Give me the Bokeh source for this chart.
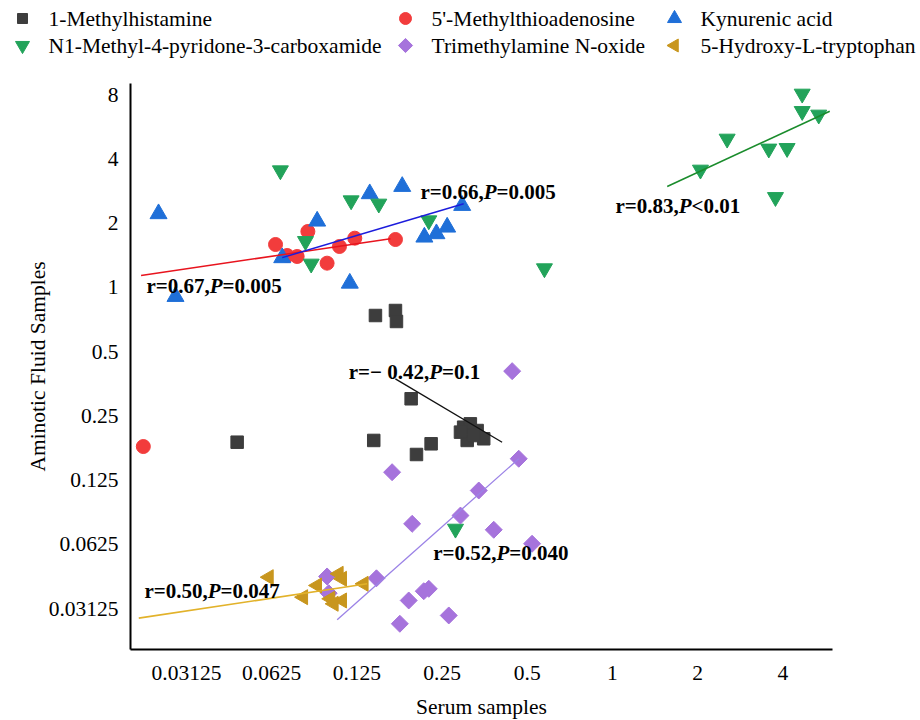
import numpy as np
from bokeh.plotting import figure
from bokeh.models import Range1d, FixedTicker
from bokeh.core.properties import value
from bokeh.embed import file_html
from bokeh.resources import INLINE

# ---------------- data ----------------
x_ticks = [0.03125, 0.0625, 0.125, 0.25, 0.5, 1, 2, 4]
x_tick_labels = ["0.03125", "0.0625", "0.125", "0.25", "0.5", "1", "2", "4"]
y_ticks = [0.03125, 0.0625, 0.125, 0.25, 0.5, 1, 2, 4, 8]
y_tick_labels = ["0.03125", "0.0625", "0.125", "0.25", "0.5", "1", "2", "4", "8"]

series_names = ["1-Methylhistamine", "5'-Methylthioadenosine", "Kynurenic acid",
                "N1-Methyl-4-pyridone-3-carboxamide", "Trimethylamine N-oxide",
                "5-Hydroxy-L-tryptophan"]

mh_x = [0.1454, 0.1711, 0.1725, 0.0472, 0.1434, 0.2287, 0.203, 0.1944, 0.298,
        0.3147, 0.3325, 0.3067, 0.3508, 0.3234, 0.2904]
mh_y = [0.739, 0.780, 0.693, 0.1884, 0.192, 0.1852, 0.165, 0.301, 0.2215,
        0.2297, 0.2137, 0.192, 0.1955, 0.2024, 0.210]

mta_x = [0.0645, 0.0839, 0.0709, 0.0769, 0.0981, 0.1085, 0.1229, 0.1711, 0.0220]
mta_y = [1.590, 1.830, 1.412, 1.397, 1.300, 1.556, 1.702, 1.678, 0.1798]

kyn_x = [0.0249, 0.02858, 0.0905, 0.1388, 0.1808, 0.0681, 0.118, 0.2165, 0.2388,
         0.2606, 0.2944]
kyn_y = [2.215, 0.907, 2.045, 2.748, 2.973, 1.378, 1.047, 1.721, 1.785, 1.917, 2.422]

n1_x = [4.682, 4.682, 5.356, 2.542, 3.567, 4.14, 2.046, 3.766, 0.0671, 0.1193,
        0.1494, 0.0823, 0.0862, 0.2244, 0.575, 0.2788]
n1_y = [8.08, 6.70, 6.445, 4.973, 4.467, 4.495, 3.560, 2.648, 3.533, 2.556,
        2.467, 1.648, 1.2915, 2.06, 1.228, 0.074]

tmao_x = [0.4665, 0.337, 0.2904, 0.1665, 0.196, 0.3807, 0.520, 0.1466, 0.0981,
          0.0994, 0.1906, 0.2154, 0.2244, 0.264, 0.1773, 0.4422]
tmao_y = [0.1576, 0.1119, 0.0854, 0.1363, 0.0781, 0.07325, 0.0630, 0.0434,
          0.04426, 0.03696, 0.03416, 0.03776, 0.03874, 0.02906, 0.02657, 0.4055]

htp_x = [0.0611, 0.0905, 0.1079, 0.1109, 0.1322, 0.0808, 0.1008, 0.1109, 0.1036]
htp_y = [0.04392, 0.04016, 0.04556, 0.04316, 0.04089, 0.0354, 0.0348, 0.03416, 0.03296]

# regression line end points
mh_fit_x, mh_fit_y = [0.171, 0.4074], [0.373, 0.1884]
mta_fit_x, mta_fit_y = [0.0216, 0.1643], [1.138, 1.691]
kyn_fit_x, kyn_fit_y = [0.0681, 0.298], [1.38, 2.467]
n1_fit_x, n1_fit_y = [1.561, 5.857], [2.973, 6.70]
tmao_fit_x, tmao_fit_y = [0.1065, 0.4665], [0.02775, 0.1576]
htp_fit_x, htp_fit_y = [0.0212, 0.1359], [0.02823, 0.04089]

# correlation annotations
ann_x = [0.02257, 0.2097, 1.0247, 0.117, 0.2326, 0.0222]
ann_y = [1.011, 2.80, 2.396, 0.401, 0.05694, 0.03776]
ann_r = ["r=0.67,", "r=0.66,", "r=0.83,", "r=\u2212 0.42,", "r=0.52,", "r=0.50,"]
ann_p = ["=0.005", "=0.005", "<0.01", "=0.1", "=0.040", "=0.047"]

# ---------------- styling ----------------
FONT = "Liberation Serif"
FS = 21.5
ANN_FS = 21

colors = ["#3d3d3d", "#f23c3c", "#1f6fd8", "#22a35a", "#a673dc", "#c8961e"]
line_colors = ["#111111", "#e8141e", "#1c1cdc", "#1a8c2c", "#9b82e6", "#e2b22a"]
markers = ["square", "circle", "triangle", "inverted_triangle", "square", "triangle"]
angles = [0, 0, 0, 0, np.pi / 4, np.pi / 2]
sizes = [12.5, 14, 17, 16, 12, 15]
leg_sizes = [10, 12, 14, 14, 10, 13]

# ---------------- main plot ----------------
p = figure(x_axis_type="log", y_axis_type="log",
           x_range=Range1d(0.01982, 5.99), y_range=Range1d(0.02013, 9.03),
           frame_width=702, frame_height=566,
           min_border_left=130, min_border_right=88, min_border_top=0, min_border_bottom=71,
           output_backend="svg", toolbar_location=None)
p.grid.visible = False
p.outline_line_color = None
p.background_fill_color = "white"
p.border_fill_color = "white"

for ax in (p.xaxis[0], p.yaxis[0]):
    ax.axis_line_width = 2
    ax.axis_line_color = "black"
    ax.major_tick_line_color = None
    ax.minor_tick_line_color = None
    ax.major_tick_out = 0
    ax.major_tick_in = 0
    ax.major_label_text_font = FONT
    ax.major_label_text_font_size = f"{FS}px"
    ax.major_label_text_color = "black"
    ax.axis_label_text_font = FONT
    ax.axis_label_text_font_size = f"{FS}px"
    ax.axis_label_text_font_style = "normal"
    ax.axis_label_text_color = "black"

p.xaxis.ticker = FixedTicker(ticks=x_ticks, minor_ticks=[])
p.yaxis.ticker = FixedTicker(ticks=y_ticks, minor_ticks=[])
p.xaxis.major_label_overrides = {t: s for t, s in zip(x_ticks, x_tick_labels)}
p.yaxis.major_label_overrides = {t: s for t, s in zip(y_ticks, y_tick_labels)}
p.xaxis.axis_label = "Serum samples"
p.yaxis.axis_label = "Aminotic Fluid Samples"
p.xaxis.major_label_standoff = 16
p.yaxis.major_label_standoff = 12
p.xaxis.axis_label_standoff = 12
p.yaxis.axis_label_standoff = -4

series = [(mh_x, mh_y), (mta_x, mta_y), (kyn_x, kyn_y), (n1_x, n1_y),
          (tmao_x, tmao_y), (htp_x, htp_y)]
for i, (sx, sy) in enumerate(series):
    p.scatter(sx, sy, marker=markers[i], angle=angles[i], size=sizes[i], color=colors[i])

# regression lines
fits = [(mh_fit_x, mh_fit_y, 1.3), (mta_fit_x, mta_fit_y, 1.5), (kyn_fit_x, kyn_fit_y, 1.5),
        (n1_fit_x, n1_fit_y, 1.6), (tmao_fit_x, tmao_fit_y, 1.3), (htp_fit_x, htp_fit_y, 1.6)]
for (fx, fy, lw), lc in zip(fits, line_colors):
    p.line(fx, fy, line_color=lc, line_width=lw)

# annotation texts (Times-metric widths for offsets)
bold_w = {"r": 444, "=": 570, ".": 250, ",": 250, " ": 250, "\u2212": 570, "<": 570}
for d in "0123456789":
    bold_w[d] = 500
P_W = 611


def text_w(s):
    return sum(bold_w.get(c, 500) for c in s) * ANN_FS / 1000.0


off_p = [text_w(s) for s in ann_r]
off_rest = [o + P_W * ANN_FS / 1000.0 for o in off_p]

common = dict(text_font=value(FONT), text_font_size=f"{ANN_FS}px", text_color="black",
              text_baseline="middle", text_align="left")
p.text(ann_x, ann_y, text=ann_r, text_font_style="bold", **common)
p.text(ann_x, ann_y, text=["P"] * len(ann_x), x_offset=off_p,
       text_font_style="bold italic", **common)
p.text(ann_x, ann_y, text=ann_p, x_offset=off_rest, text_font_style="bold", **common)

# ---------------- legend strip (3 columns x 2 rows), separate root ----------------
LEG_H = 83
leg = figure(width=920, height=LEG_H, x_range=Range1d(0, 920), y_range=Range1d(LEG_H, 0),
             x_axis_location=None, y_axis_location=None, min_border=0,
             output_backend="svg", toolbar_location=None)
leg.grid.visible = False
leg.outline_line_color = None
leg.background_fill_color = "white"
leg.border_fill_color = "white"

leg_col_x = [22, 405, 674]
leg_row_y = [18, 45]
LABEL_GAP = 26
for i, name in enumerate(series_names):
    cx = leg_col_x[i % 3]
    cy = leg_row_y[i // 3]
    leg.scatter([cx], [cy], marker=markers[i], angle=angles[i], size=leg_sizes[i],
                color=colors[i])
    leg.text([cx + LABEL_GAP], [cy], text=[name], text_font=value(FONT),
             text_font_size=f"{FS}px", text_color="black", text_baseline="middle",
             text_align="left")

open("out.html", "w").write(file_html([leg, p], INLINE))
